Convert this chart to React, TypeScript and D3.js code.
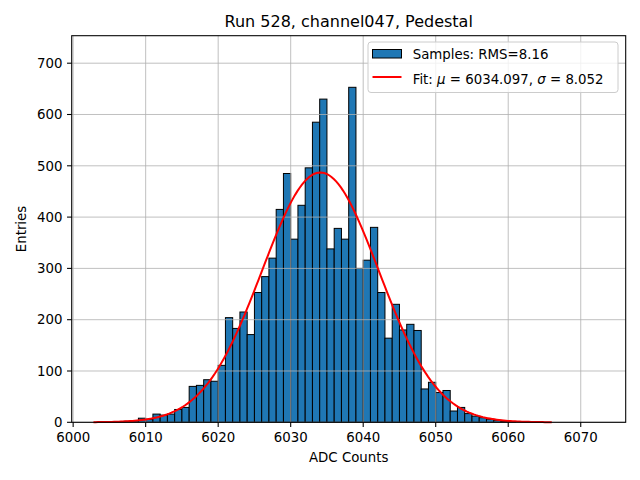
import React from 'react';
import * as d3 from 'd3';

const title = 'Run 528, channel047, Pedestal';
const binStarts = [
    6003, 6004, 6005, 6006, 6007, 6008, 6009, 6010, 6011, 6012, 6013, 6014, 6015, 6016, 6017, 6018, 6019,
    6020, 6021, 6022, 6023, 6024, 6025, 6026, 6027, 6028, 6029, 6030, 6031, 6032, 6033, 6034, 6035, 6036,
    6037, 6038, 6039, 6040, 6041, 6042, 6043, 6044, 6045, 6046, 6047, 6048, 6049, 6050, 6051, 6052, 6053,
    6054, 6055, 6056, 6057, 6058, 6059, 6060,
];
const counts = [
    0, 1, 1, 1, 2, 3, 8, 6, 16, 14, 16, 25, 29, 70, 72, 83, 80,
    111, 204, 183, 215, 171, 253, 284, 320, 415, 485, 357, 423, 496, 585, 630, 338, 378,
    357, 653, 300, 316, 380, 253, 164, 230, 180, 191, 179, 65, 78, 58, 62, 22, 29,
    17, 12, 9, 6, 4, 2, 1,
];
const binWidth = 1;
const xTicks = [6000, 6010, 6020, 6030, 6040, 6050, 6060, 6070];
const yTicks = [0, 100, 200, 300, 400, 500, 600, 700];

// fit result
const fitMu = 6034.097;
const fitSigma = 8.052;
const fitAmp = 487;
const fitRange: [number, number] = [6002.8, 6066.0];
const rmsLabel = 'Samples: RMS=8.16';

const W = 640;
const H = 480;
const margin = { top: 35.7, right: 14.3, bottom: 57.7, left: 71.7 };
const font = 'DejaVu Sans, sans-serif';

const App: React.FC = () => {
    const x = d3.scaleLinear().domain([5999.8, 6076.2]).range([margin.left, W - margin.right]);
    const y = d3.scaleLinear().domain([0, 753.6]).range([H - margin.bottom, margin.top]);

    const fitPts = d3.range(0, 201).map((i) => {
        const v = fitRange[0] + ((fitRange[1] - fitRange[0]) * i) / 200;
        return [v, fitAmp * Math.exp(-0.5 * ((v - fitMu) / fitSigma) ** 2)] as [number, number];
    });
    const line = d3
        .line<[number, number]>()
        .x((d) => x(d[0]))
        .y((d) => y(d[1]));

    const x0 = margin.left;
    const x1 = W - margin.right;
    const y0 = H - margin.bottom;
    const y1 = margin.top;

    return (
        <svg width={W} height={H} style={{ position: 'absolute', left: 0, top: 0, background: '#fff' }}>
            <rect x={0} y={0} width={W} height={H} fill="#fff" />
            {/* bars */}
            {binStarts.map((b, i) =>
                counts[i] > 0 ? (
                    <rect
                        key={b}
                        x={x(b)}
                        y={y(counts[i])}
                        width={x(b + binWidth) - x(b)}
                        height={y(0) - y(counts[i])}
                        fill="#1f77b4"
                        stroke="#000"
                        strokeWidth={1}
                    />
                ) : null
            )}
            {/* grid */}
            <g stroke="#b0b0b0" strokeWidth={0.8}>
                {xTicks.map((t) => (
                    <line key={'gx' + t} x1={x(t)} x2={x(t)} y1={y0} y2={y1} />
                ))}
                {yTicks.map((t) => (
                    <line key={'gy' + t} x1={x0} x2={x1} y1={y(t)} y2={y(t)} />
                ))}
            </g>
            {/* fit */}
            <path d={line(fitPts) || ''} fill="none" stroke="red" strokeWidth={2} />
            {/* spines */}
            <rect x={x0} y={y1} width={x1 - x0} height={y0 - y1} fill="none" stroke="#000" strokeWidth={1.07} />
            {/* x axis */}
            <g fontFamily={font} fontSize={13.33} fill="#000">
                {xTicks.map((t) => (
                    <g key={'tx' + t}>
                        <line x1={x(t)} x2={x(t)} y1={y0} y2={y0 + 4.67} stroke="#000" strokeWidth={1.07} />
                        <text x={x(t)} y={y0 + 19.4} textAnchor="middle">
                            {t}
                        </text>
                    </g>
                ))}
                {yTicks.map((t) => (
                    <g key={'ty' + t}>
                        <line x1={x0 - 4.67} x2={x0} y1={y(t)} y2={y(t)} stroke="#000" strokeWidth={1.07} />
                        <text x={x0 - 9.3} y={y(t)} dy="0.36em" textAnchor="end">
                            {t}
                        </text>
                    </g>
                ))}
                <text x={(x0 + x1) / 2} y={462} textAnchor="middle">
                    ADC Counts
                </text>
                <text transform={`translate(26,${(y0 + y1) / 2}) rotate(-90)`} textAnchor="middle">
                    Entries
                </text>
            </g>
            <text x={(x0 + x1) / 2} y={26.5} textAnchor="middle" fontFamily={font} fontSize={16}>
                {title}
            </text>
            {/* legend */}
            <g fontFamily={font} fontSize={13.33}>
                <rect x={368} y={42} width={250} height={50.5} rx={3} fill="#fff" fillOpacity={0.8} stroke="#cccccc" strokeWidth={1} />
                <rect x={372.5} y={49.5} width={29} height={8.5} fill="#1f77b4" stroke="#000" strokeWidth={1} />
                <text x={412.7} y={58.5}>{rmsLabel}</text>
                <line x1={372.5} x2={401.5} y1={77} y2={77} stroke="red" strokeWidth={2} />
                <text x={412.7} y={83.5}>
                    Fit: <tspan fontStyle="italic">μ</tspan> = {fitMu.toFixed(3)}, <tspan fontStyle="italic">σ</tspan> = {fitSigma.toFixed(3)}
                </text>
            </g>
        </svg>
    );
};

export default App;
